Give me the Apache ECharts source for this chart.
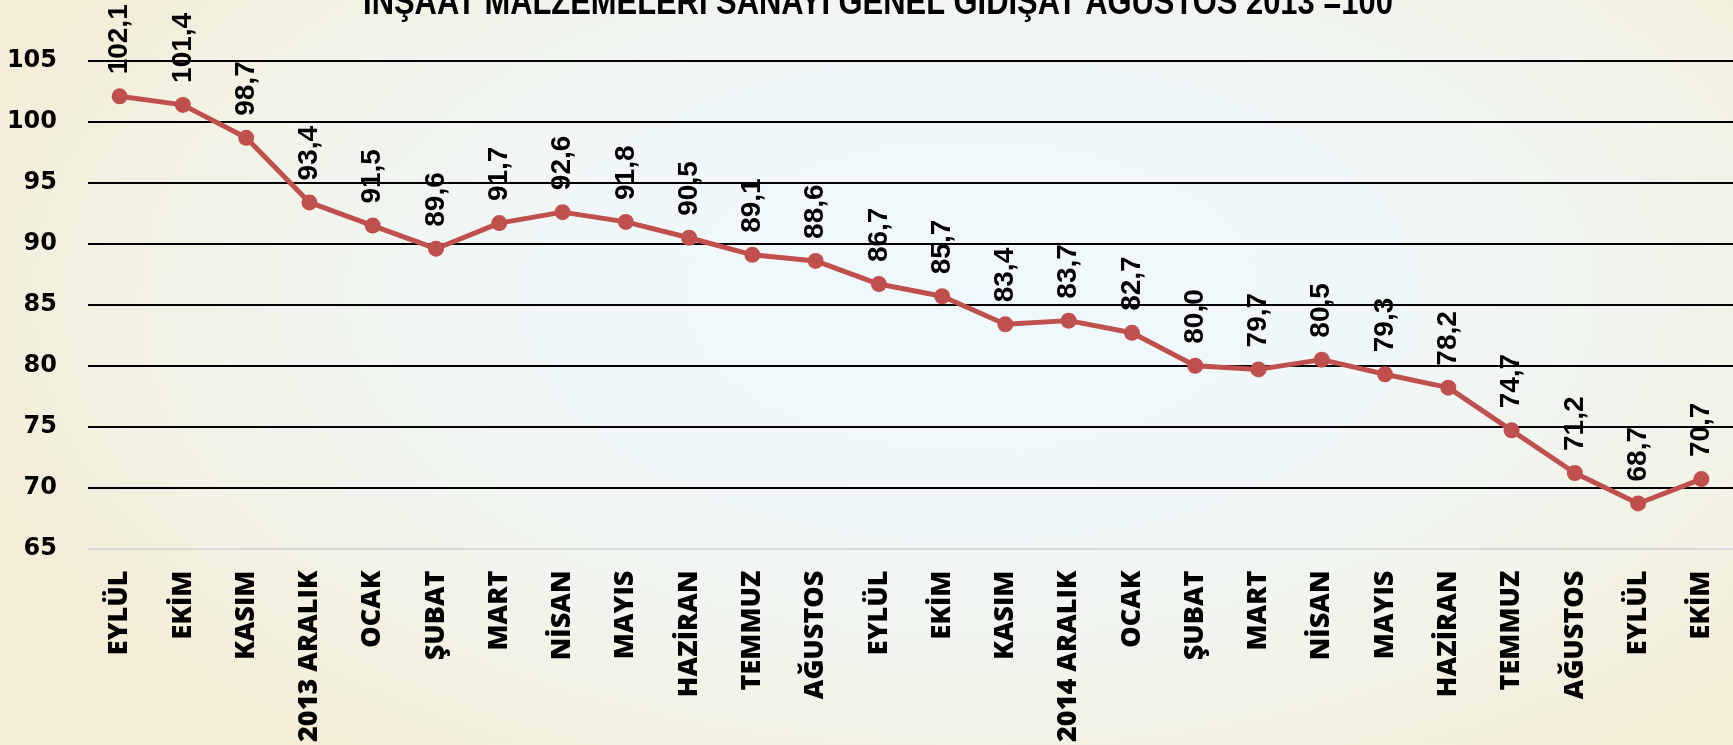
<!DOCTYPE html>
<html>
<head>
<meta charset="utf-8">
<script src="https://cdn.jsdelivr.net/npm/echarts@6/dist/echarts.min.js"></script>
<style>
html,body{margin:0;padding:0;}
#chart{width:1733px;height:745px;background:radial-gradient(ellipse 62% 78% at 56% 40%, #eff8fc 0%, #f0f7f8 40%, #f2f3e8 72%, #f4ecd6 100%);}
</style>
</head>
<body>
<div id="chart"></div>
<script>
const titleText = 'İNŞAAT MALZEMELERİ SANAYİ GENEL GİDİŞAT AĞUSTOS 2013 =100';
const categories = ['EYLÜL','EKİM','KASIM','2013 ARALIK','OCAK','ŞUBAT','MART','NİSAN','MAYIS','HAZİRAN','TEMMUZ','AĞUSTOS','EYLÜL','EKİM','KASIM','2014 ARALIK','OCAK','ŞUBAT','MART','NİSAN','MAYIS','HAZİRAN','TEMMUZ','AĞUSTOS','EYLÜL','EKİM'];
const values = [102.1,101.4,98.7,93.4,91.5,89.6,91.7,92.6,91.8,90.5,89.1,88.6,86.7,85.7,83.4,83.7,82.7,80.0,79.7,80.5,79.3,78.2,74.7,71.2,68.7,70.7];
const yMin = 65, yMax = 105, yStep = 5;

const chart = echarts.init(document.getElementById('chart'), null, {renderer:'canvas'});
const gridColors = ['rgba(0,0,0,0)','#000','#000','#000','#000','#000','#000','#000','#000'];
chart.setOption({
  backgroundColor: 'transparent',
  animation: false,
  graphic: [{
    type: 'text',
    z: 10,
    x: 878, y: 22,
    scaleX: 0.835,
    style: {
      text: titleText,
      x: 0, y: 0,
      fill: '#000',
      font: 'bold 37px "Liberation Sans", Arial, sans-serif',
      textAlign: 'center',
      textVerticalAlign: 'bottom'
    }
  }],
  grid: {left: 88, right: 0, top: 61, bottom: 195, containLabel: false},
  xAxis: {
    type: 'category',
    data: categories,
    boundaryGap: true,
    axisLine: {show: true, lineStyle: {color: '#d9d9d9', width: 2}},
    axisTick: {show: false},
    axisLabel: {
      interval: 0, rotate: 90, margin: 22,
      color: '#000', fontFamily: '"Open Sans", sans-serif', fontWeight: 800, fontSize: 27
    },
    splitLine: {show: false}
  },
  yAxis: {
    type: 'value',
    min: yMin, max: yMax, interval: yStep,
    axisLine: {show: false},
    axisTick: {show: false},
    axisLabel: {
      margin: 31, color: '#000',
      fontFamily: '"DejaVu Sans", sans-serif', fontWeight: 'bold', fontSize: 24
    },
    splitLine: {show: true, lineStyle: {color: gridColors, width: 2}}
  },
  series: [{
    type: 'line',
    data: values,
    symbol: 'circle',
    symbolSize: 16,
    lineStyle: {color: '#C0504D', width: 5},
    itemStyle: {color: '#C0504D'},
    label: {
      show: true,
      position: 'top',
      rotate: 90,
      align: 'left',
      verticalAlign: 'middle',
      distance: 14,
      color: '#000',
      fontFamily: '"Liberation Sans", Arial, sans-serif',
      fontWeight: 'bold',
      fontSize: 28,
      formatter: p => p.value.toFixed(1).replace('.', ',')
    },
    z: 5
  }]
});
</script>
</body>
</html>
